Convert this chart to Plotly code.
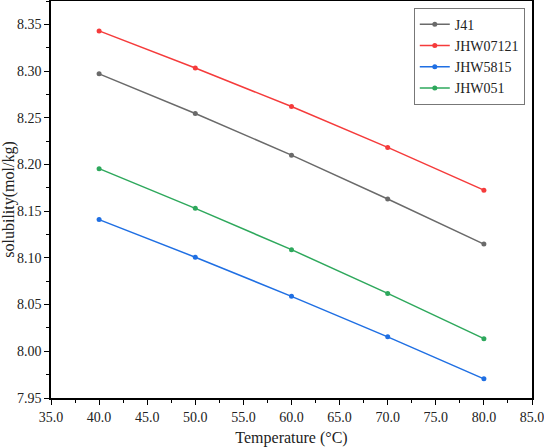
import plotly.graph_objects as go

temps = [40, 50, 60, 70, 80]
j41 = [8.297, 8.2545, 8.210, 8.163, 8.1148]
jhw07121 = [8.343, 8.3033, 8.262, 8.2183, 8.1725]
jhw5815 = [8.141, 8.1007, 8.0588, 8.0155, 7.9705]
jhw051 = [8.1955, 8.153, 8.1088, 8.062, 8.0135]

series = [("J41", j41, "#6a6a6a"), ("JHW07121", jhw07121, "#f53b3b"),
          ("JHW5815", jhw5815, "#1f6fe3"), ("JHW051", jhw051, "#2ea85c")]

fig = go.Figure()
for name, vals, col in series:
    fig.add_trace(go.Scatter(x=temps, y=vals, name=name, mode="lines+markers",
                             line=dict(color=col, width=1.5),
                             marker=dict(color=col, size=5)))

FAM = "Liberation Serif"
fig.update_layout(
    width=544, height=448,
    margin=dict(l=51, r=12, t=1, b=50, autoexpand=False),
    paper_bgcolor="white", plot_bgcolor="white",
    font=dict(family=FAM, size=13, color="#222"),
    showlegend=True,
    legend=dict(x=0.985, y=0.983, xanchor="right", yanchor="top",
                bordercolor="#777", borderwidth=1, bgcolor="white",
                font=dict(family=FAM, size=14), tracegroupgap=0, itemwidth=30),
    xaxis=dict(range=[35, 85], dtick=5, tick0=35, tickformat=".1f",
               automargin=False, ticklabeloverflow="allow",
               showgrid=False, zeroline=False, showline=True, linecolor="black",
               linewidth=1.5, mirror=True, ticks="outside", ticklen=5,
               tickcolor="black", tickwidth=1,
               minor=dict(dtick=2.5, ticks="outside", ticklen=3, tickcolor="black"),
               title=dict(text="Temperature (°C)", font=dict(family=FAM, size=16), standoff=8),
               tickfont=dict(family=FAM, size=14, color="#222")),
    yaxis=dict(range=[7.95, 8.375], dtick=0.05, tick0=7.95, tickformat=".2f",
               automargin=False, ticklabeloverflow="allow",
               showgrid=False, zeroline=False, showline=True, linecolor="black",
               linewidth=1.5, mirror=True, ticks="outside", ticklen=5,
               tickcolor="black", tickwidth=1,
               minor=dict(dtick=0.025, ticks="outside", ticklen=3, tickcolor="black"),
               title=dict(text="solubility(mol/kg)", font=dict(family=FAM, size=16), standoff=6),
               tickfont=dict(family=FAM, size=14, color="#222")),
)
fig.write_html("out.html", config={"displayModeBar": False},
               post_script="document.body.style.margin='0';document.body.style.padding='0';")
